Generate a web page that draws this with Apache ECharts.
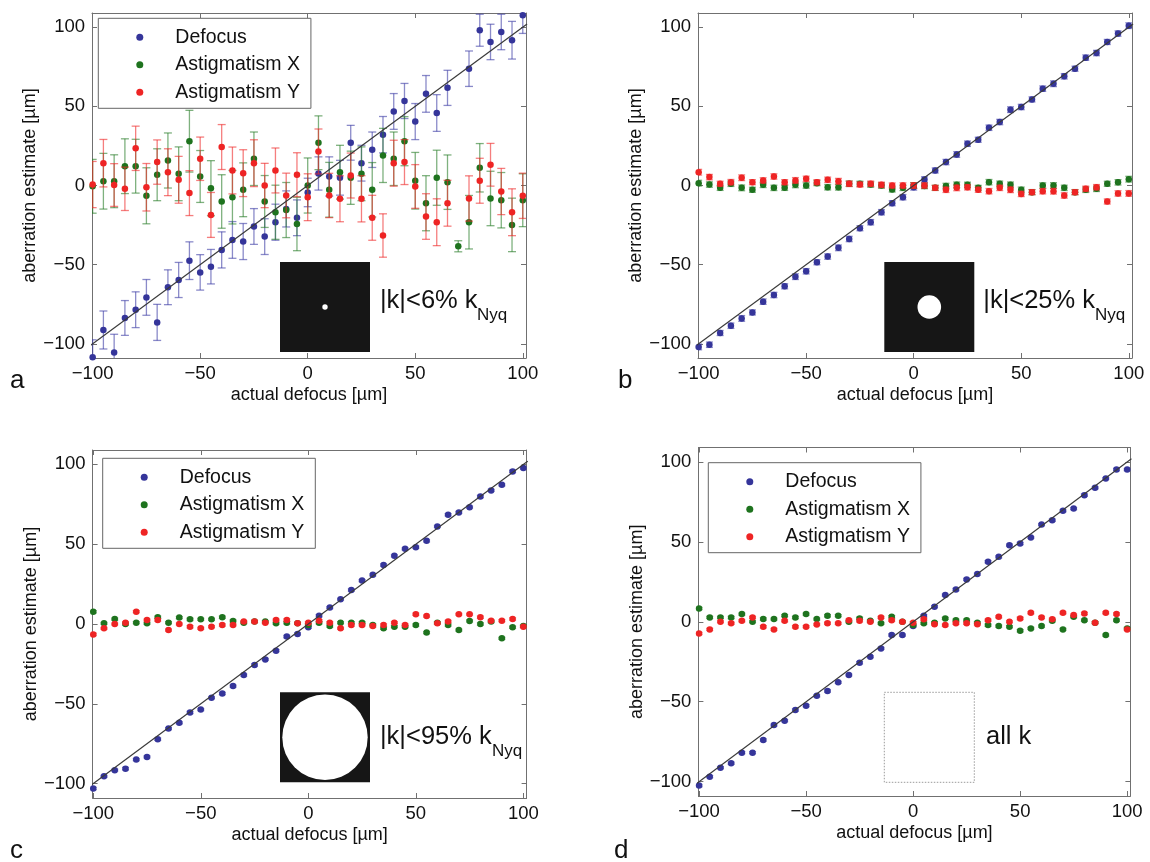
<!DOCTYPE html>
<html><head><meta charset="utf-8">
<script src="https://cdn.jsdelivr.net/npm/echarts@6/dist/echarts.min.js"></script>
<style>html,body{margin:0;padding:0;background:#fff}#c{width:1150px;height:862px}</style>
</head><body><div id="c"></div>
<script>
// actual defocus positions [µm]
const xValues = [-100,-95,-90,-85,-80,-75,-70,-65,-60,-55,-50,-45,-40,-35,-30,-25,-20,-15,-10,-5,0,5,10,15,20,25,30,35,40,45,50,55,60,65,70,75,80,85,90,95,100];
const xTicks = [-100,-50,0,50,100];
const yTicks = [-100,-50,0,50,100];
const idealLine = [-102,102];
const seriesNames = ['Defocus','Astigmatism X','Astigmatism Y'];

// panel a: |k|<6% kNyq
const aDefocus = [-108.5,-91.3,-105.5,-83.7,-78.5,-70.7,-86.5,-64.3,-59.7,-47.5,-54.9,-51.3,-40.7,-34.4,-35.4,-25.9,-32.3,-23.2,-14.8,-20.4,-4.4,7.6,5.7,4.9,27.0,14.1,22.6,32.1,46.8,53.4,40.4,57.9,45.8,61.7,null,73.8,98.1,90.7,97.0,91.8,107.6];
const aDefocusErr = [11,12,11.5,11,11.3,11.3,11.4,11,11.1,11.9,11.2,10.9,11.4,11.6,11.4,11.3,11.3,11.4,11.4,11.3,9,10.5,12.4,11,11,11.3,11.2,11.5,11.3,11.1,11.4,11.6,11.6,11.1,null,11.2,10.1,11.2,11.2,11.9,11.5];
const aAstX = [-0.5,2.7,2.7,12.2,12.2,-6.5,6.8,15.8,7.4,28,5.7,-1.7,-10.1,-7.4,-2.7,16.9,-10.1,-16.9,-15.5,-24.3,0,27,-2.7,8.4,4.9,7.4,-2.7,19,16.9,28,3,-11.2,4.9,2.1,-38.4,-23.2,11.2,-8.2,-9.3,-24.9,-9.3];
const aAstXErr = [17,17.6,16.7,17.3,17,17.7,16.4,17.4,17,19.5,16.4,17.4,16.9,16.9,17,16.9,16.4,17.1,17.4,16.9,17.4,17,17.3,17,16.8,17,17.2,17.1,16.9,15.5,17.9,17.4,17.4,17.2,3.5,16.9,15.3,17.2,17.5,16.9,16.7];
const aAstY = [0.6,14.1,0.3,-2.1,23.5,-1.1,14.8,8.4,3.6,-4.8,16.9,-18.6,24.3,9.5,7.8,14.1,0,9.5,-6.3,6.8,-7.4,21.5,-6.3,-8.4,6.3,-8.4,-20.4,-31.6,14.1,14.8,-0.6,-19.6,-23.2,-11.2,null,-8.2,3,13.1,-3.8,-16.9,-6.5];
const aAstYErr = [14.6,15,13.5,13.7,14,15,14,14.8,14.8,14.2,13.7,14.2,14.2,14.8,14.8,14.8,14,14.2,14.1,13.9,14.8,14.2,14,14.5,14.2,14.6,14.2,13.7,14.5,14.2,13.8,14.4,14.8,14.5,null,14.3,14.2,13.5,14.6,14.8,14.3];

// panel b: |k|<25% kNyq
const bDefocus = [-102,-100.6,-93.2,-88.6,-84,-80.2,-73.4,-69.2,-63.7,-57.6,-54.2,-48.5,-44.9,-39.4,-33.8,-27,-23.2,-16.9,-11.2,-7.4,-1.1,3.8,9.5,14.8,19.6,26.4,28.9,36.5,40.1,47.9,49.6,54.4,61.2,64.3,69,73.8,80.8,83.7,90.7,96,101];
const bAstX = [1.5,0.6,-1.5,1.1,-1.5,-2.7,0.4,-1.5,-1.5,0.4,0,1.5,-1.1,-1.1,1.1,1.1,0.6,0,-2.5,-1.5,0,-0.3,-1.5,-0.3,0.4,0.4,-1.5,2.1,1.1,0.4,-2.7,-4.2,0,0,-1.5,-4.2,-2.7,-2.1,1.1,2,4];
const bAstY = [8.4,5.3,1.1,2.1,4.9,2.1,3.2,5.7,2.1,3.2,4.2,2.1,3.6,2.7,1.1,0.6,1.1,0.4,0,0,0,0,-1.5,-2.7,-1.5,-1.1,-2.7,-3.6,-1.5,-2.7,-5.3,-4.2,-3.6,-3.6,-6.3,-4.2,-2.1,-1.1,-10.1,-5,-5];
const bErr = [1.8,1.7,1.6,1.7,1.8,1.6,1.7,1.7,1.6,1.8,1.7,1.6,1.7,1.8,1.7,1.6,1.7,1.7,1.6,1.7,1.8,1.7,1.6,1.7,1.8,1.7,1.6,1.7,1.7,1.8,1.7,1.6,1.7,1.8,1.7,1.6,1.7,1.7,1.6,1.7,1.8];

// panel c: |k|<95% kNyq
const cDefocus = [-103.1,-95.4,-91.6,-90.6,-84.9,-83.3,-72.2,-65.5,-61.9,-55.4,-53.6,-46.2,-43.5,-38.9,-32,-25.7,-22.2,-16.7,-7.9,-6.2,-2.1,5.2,10.3,15.5,21.3,27.2,30.8,37,42.7,47.1,48.1,52.1,61.1,68.4,69.9,73.2,79.9,83.7,87.2,95.6,97.7];
const cAstX = [7.7,0.4,3.1,0,0.8,0.4,4.2,0.8,4,2.9,2.9,2.9,4.2,1.9,0.8,1.5,1.5,0.4,0.8,0.4,-0.6,0.8,-1.3,0.8,0.8,0.8,-0.6,-2.7,-1.7,-1.7,-0.6,-5.4,0.8,-0.6,-3.8,1.9,0,1.5,-9,-2.1,-1.3];
const cAstY = [-6.5,-2.7,0,0.8,7.7,2.5,2.5,-3.8,0,-1.7,-2.7,-1.7,-0.6,-0.6,1.5,1.5,0.8,2.5,2.5,0.4,0.8,2.1,0.8,-2.7,-0.6,-0.6,-1.3,-0.6,0.8,-0.6,6.1,5,0.4,1.5,6.1,6.1,4.2,2.1,2.1,3.1,-1.7];
const cErr = [0.7,0.6,0.6,0.7,0.6,0.6,0.7,0.6,0.6,0.7,0.6,0.6,0.7,0.6,0.6,0.7,0.6,0.6,0.7,0.6,0.6,0.7,0.6,0.6,0.7,0.6,0.6,0.7,0.6,0.6,0.7,0.6,0.6,0.7,0.6,0.6,0.7,0.6,0.6,0.7,0.6];

// panel d: all k
const dDefocus = [-102.5,-96.9,-91.3,-88.5,-81.9,-81.9,-74,-64.6,-61.9,-55.2,-52.5,-46.3,-43.3,-37.9,-33.3,-25.6,-21.9,-16.7,-8.3,-8.3,-2.7,3.7,9.4,16.7,20.2,26.5,29.8,37.5,40.6,47.9,49,52.7,60.8,63.5,69.4,70.8,79.2,83.8,89.6,95.2,95.2];
const dAstX = [8.3,2.7,2.7,2.7,4.8,0,1.7,1.7,3.8,2.7,4.8,1.7,3.8,3.8,0,2.1,0.6,-1,3.1,0,-2.1,-1,-0.6,2.1,1,1,-0.6,-2.1,-2.7,-3.1,-5.6,-4.2,-2.7,0.6,-4.8,3.1,1,-0.6,-8.3,1,-4.2];
const dAstY = [-7.3,-4.8,0,-1,0.6,2.7,-3.1,-4.8,0.6,-3.1,-3.1,-1.7,-1,-1,1,0.6,0,2.7,1,0,-0.6,1.5,-1.5,-2.1,-1,-1,-1.5,1,3.1,0,2.1,5.6,2.7,1.5,5.6,4.2,5.2,-0.6,5.6,4.8,-4.8];
const dErr = cErr;

const colors = ['#35359a','#1e731e','#ee2424'];
const errColors = ['rgba(60,60,165,0.6)','rgba(40,125,40,0.6)','rgba(238,40,40,0.6)'];
const FONT = 'Liberation Sans, Arial, Helvetica, sans-serif';

const grids = [
  {left:92, top:13, width:434, height:345},
  {left:698, top:13, width:434, height:345},
  {left:92.6, top:450, width:434, height:348},
  {left:698.4, top:447.5, width:432, height:348.5}
];
const panelData = [
  {d:aDefocus, x:aAstX, y:aAstY, ed:aDefocusErr, ex:aAstXErr, ey:aAstYErr, cap:4},
  {d:bDefocus, x:bAstX, y:bAstY, ed:bErr, ex:bErr, ey:bErr, cap:3.5},
  {d:cDefocus, x:cAstX, y:cAstY, ed:cErr, ex:cErr, ey:cErr, cap:3.5},
  {d:dDefocus, x:dAstX, y:dAstY, ed:dErr, ex:dErr, ey:dErr, cap:3.5}
];

const fmt = v => (v < 0 ? '\u2212' + Math.abs(v) : String(v));
const xAxes = [], yAxes = [], series = [];
grids.forEach((g, p) => {
  const common = {type:'value', min:-100.3, max:101.5, gridIndex:p,
    axisLine:{show:true, onZero:false, lineStyle:{color:'#707070', width:1}},
    axisTick:{show:true, inside:true, length:5, customValues:xTicks, lineStyle:{color:'#707070'}},
    splitLine:{show:false}};
  xAxes.push(Object.assign({}, common, {position:'bottom',
    axisLabel:{show:true, customValues:xTicks, formatter:fmt, color:'#111', fontFamily:FONT, fontSize:18.5, margin:6},
    name:'actual defocus [\u00b5m]', nameLocation:'middle', nameGap:28,
    nameTextStyle:{color:'#111', fontFamily:FONT, fontSize:18}}));
  xAxes.push(Object.assign({}, common, {position:'top', axisLabel:{show:false}}));
  const ycommon = {type:'value', min:-109, max:109, gridIndex:p,
    axisLine:{show:true, onZero:false, lineStyle:{color:'#707070', width:1}},
    axisTick:{show:true, inside:true, length:5, customValues:yTicks, lineStyle:{color:'#707070'}},
    splitLine:{show:false}};
  yAxes.push(Object.assign({}, ycommon, {position:'left',
    axisLabel:{show:true, customValues:yTicks, formatter:fmt, color:'#111', fontFamily:FONT, fontSize:18.5, margin:7},
    name:'aberration estimate [\u00b5m]', nameLocation:'middle', nameGap:52, nameRotate:90,
    nameTextStyle:{color:'#111', fontFamily:FONT, fontSize:18}}));
  yAxes.push(Object.assign({}, ycommon, {position:'right', axisLabel:{show:false}}));

  const pd = panelData[p];
  const vals = [pd.d, pd.x, pd.y];
  const errs = [pd.ed, pd.ex, pd.ey];
  const ai = 2 * p;
  vals.forEach((ys, s) => {
    const cap = pd.cap, col = errColors[s];
    series.push({
      type:'custom', name:'err-' + p + '-' + s, xAxisIndex:ai, yAxisIndex:ai, z:2 + 2 * s, silent:true,
      dimensions:['x','y','e'], encode:{x:0, y:1},
      data: xValues.map((x, i) => [x, ys[i], errs[s][i]]).filter(r => r[1] != null && r[2] != null),
      renderItem(params, api) {
        const x = api.value(0), y = api.value(1), e = api.value(2);
        const t = api.coord([x, y + e]), b = api.coord([x, y - e]);
        const cs = params.coordSys;
        const st = {stroke:col, lineWidth:1.3};
        return {type:'group',
          clipPath:{type:'rect', shape:{x:cs.x, y:cs.y, width:cs.width, height:cs.height}},
          children:[
            {type:'line', shape:{x1:t[0], y1:t[1], x2:b[0], y2:b[1]}, style:st},
            {type:'line', shape:{x1:t[0]-cap, y1:t[1], x2:t[0]+cap, y2:t[1]}, style:st},
            {type:'line', shape:{x1:b[0]-cap, y1:b[1], x2:b[0]+cap, y2:b[1]}, style:st}
          ]};
      }
    });
    series.push({
      type:'scatter', name:seriesNames[s], xAxisIndex:ai, yAxisIndex:ai, z:3 + 2 * s,
      symbol:'circle', symbolSize:6.5, clip:true, silent:true,
      itemStyle:{color:colors[s], opacity:1},
      data: xValues.map((x, i) => [x, ys[i]]).filter(r => r[1] != null)
    });
  });
  series.push({type:'line', name:'ideal-' + p, xAxisIndex:ai, yAxisIndex:ai, z:10, silent:true,
    symbol:'none', clip:true, lineStyle:{color:'#3a3a3a', width:1.2},
    data: idealLine.map(v => [v, v])});
});

const legendBase = {orient:'vertical', icon:'circle', itemWidth:7, itemHeight:7, itemGap:7.5,
  padding:[9, 11, 6, 38], borderColor:'#666', borderWidth:1, backgroundColor:'#fff',
  selectedMode:false, data:seriesNames,
  textStyle:{color:'#111', fontFamily:FONT, fontSize:19.5, lineHeight:20, padding:[0,0,0,27]}, z:20};
const legends = [
  Object.assign({}, legendBase, {left:98.3, top:18.3}),
  Object.assign({}, legendBase, {left:102.7, top:458.3}),
  Object.assign({}, legendBase, {left:708.3, top:462.7})
];

const txt = (x, y, s, size, extra) => Object.assign({type:'text', x, y, z:30,
  style:Object.assign({text:s, fontFamily:FONT, fontSize:size, fill:'#111', textVerticalAlign:'middle'}, extra || {})});
const graphic = [
  // insets
  {type:'rect', shape:{x:280, y:262, width:90, height:90}, style:{fill:'#161616'}, z:30},
  {type:'circle', shape:{cx:325, cy:307, r:2.7}, style:{fill:'#fff'}, z:31},
  txt(380, 301, '|k|<6% k', 25.5),
  txt(477, 315, 'Nyq', 17),
  {type:'rect', shape:{x:884.3, y:262, width:90, height:90}, style:{fill:'#161616'}, z:30},
  {type:'circle', shape:{cx:929.3, cy:307, r:11.8}, style:{fill:'#fff'}, z:31},
  txt(983.3, 301, '|k|<25% k', 25.5),
  txt(1095, 315, 'Nyq', 17),
  {type:'rect', shape:{x:280, y:692.3, width:90, height:90}, style:{fill:'#161616'}, z:30},
  {type:'circle', shape:{cx:325, cy:737.3, r:42.7}, style:{fill:'#fff'}, z:31},
  txt(380, 737, '|k|<95% k', 25.5),
  txt(492, 751, 'Nyq', 17),
  {type:'rect', shape:{x:884.3, y:692.3, width:90, height:90}, style:{fill:'none', stroke:'#9a9a9a', lineWidth:1, lineDash:[1.5,1.5]}, z:30},
  txt(986, 737, 'all k', 25.5),
  // panel letters
  txt(10, 381, 'a', 26),
  txt(618, 381, 'b', 26),
  txt(10, 851, 'c', 26),
  txt(614, 851, 'd', 26)
];

const chart = echarts.init(document.getElementById('c'), null, {renderer:'canvas'});
chart.setOption({
  animation:false, backgroundColor:'#fff',
  grid: grids.map(g => Object.assign({containLabel:false}, g)),
  xAxis: xAxes, yAxis: yAxes, legend: legends, series, graphic
});
</script></body></html>
